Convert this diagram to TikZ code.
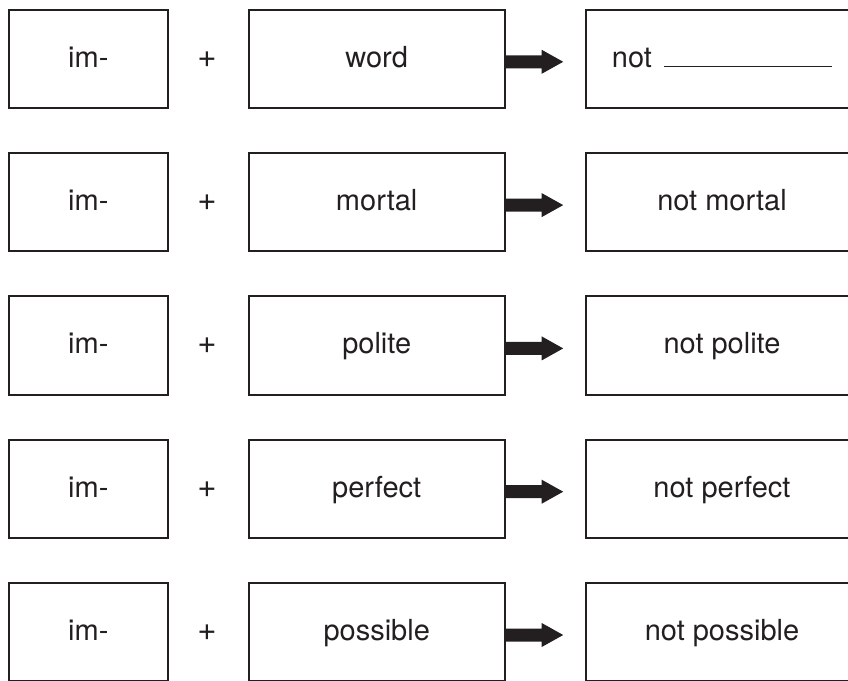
\documentclass[tikz,border=0pt]{standalone}
\usepackage{fontspec}
\setmainfont{TeX Gyre Heros}
\definecolor{ink}{HTML}{231F20}
\tikzset{
  box/.style={draw=ink, line width=2pt, rectangle, inner sep=0pt, outer sep=0pt,
    minimum height=98.3pt, text=ink, font=\fontsize{29}{34}\selectfont,
    text height=23pt, text depth=6pt},
  leftbox/.style={box, minimum width=159.3pt},
  midbox/.style={box, minimum width=256pt},
  rightbox/.style={box, minimum width=272pt},
  plussign/.style={inner sep=0pt, outer sep=0pt, text=ink, font=\fontsize{33}{38}\selectfont,
    text height=23pt, text depth=6pt},
  fatarrow/.style={fill=ink}
}
\begin{document}
\begin{tikzpicture}[x=1pt,y=-1pt]
\useasboundingbox (0,0) rectangle (848,680);
\clip (0,0) rectangle (848,680);
\foreach \i/\w/\r in {0/word/{not\hspace{12pt}\rule{168pt}{1.2pt}},1/mortal/not mortal,2/polite/not polite,3/perfect/not perfect,4/possible/not possible}{
  \pgfmathsetmacro{\yy}{58.8+143.3*\i}
  \node[leftbox] (l\i) at (88.3,\yy) {im-};
  \node[plussign] (p\i) at (207,\yy) {+};
  \node[midbox] (m\i) at (376.7,\yy) {\w};
  \node[rightbox] (r\i) at (722,\yy) {\r};
  \fill[fatarrow] ([yshift=-3pt]m\i.east) ++(0,-6.5) -- ++(37,0) -- ++(0,-5.5)
     -- ++(21.5,12) -- ++(-21.5,12) -- ++(0,-5.5) -- ++(-37,0) -- cycle;
}
\end{tikzpicture}
\end{document}
